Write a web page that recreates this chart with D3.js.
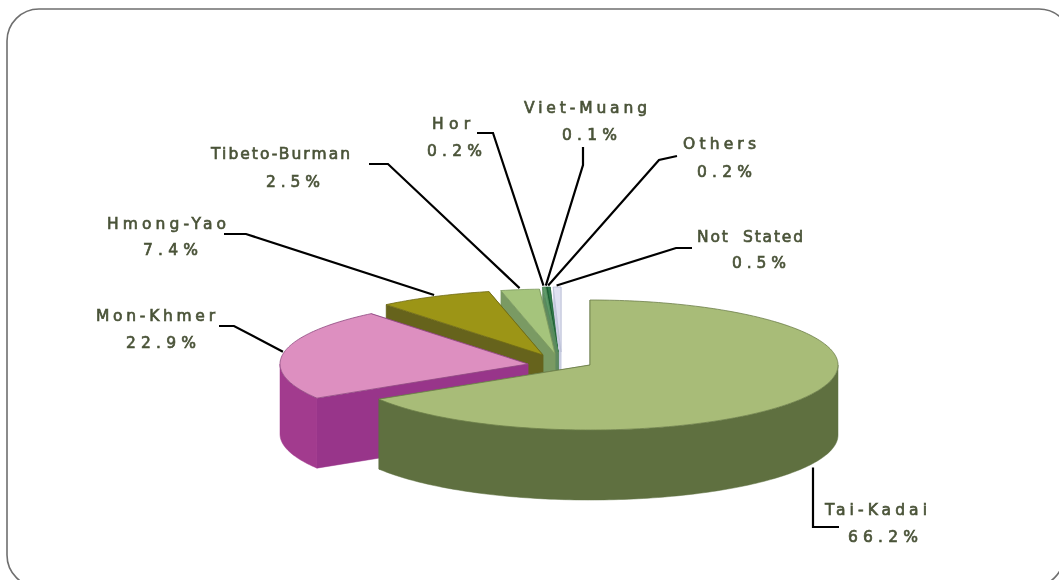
<!DOCTYPE html>
<html><head><meta charset="utf-8">
<script src="https://cdn.jsdelivr.net/npm/d3@7/dist/d3.min.js"></script>
<style>html,body{margin:0;padding:0;background:#fff;overflow:hidden}svg{display:block}</style>
</head><body><svg id="c" width="1059" height="580"></svg>
<script>
// ---- data ----
const categories = ["Tai-Kadai","Mon-Khmer","Hmong-Yao","Tibeto-Burman","Hor","Viet-Muang","Others","Not Stated"];
const shares = [66.2,22.9,7.4,2.5,0.2,0.1,0.2,0.5];
// ---- styles ----
const topColors  = ["#a8bc78","#dd8fc0","#9c9514","#a5c47c","#5f9a6a","#1f6b3a","#2f7a4a","#dfe1f1"];
const wallColors = ["#5e7040","#a23a8e","#66641c","#7a9a63","#5f8a5e","#2a6a3e","#3a7a4a","#c8cce0"];
const cutColors  = ["#5e7040","#98358a","#66641c","#7a9a63","#5f8a5e","#2a6a3e","#3a7a4a","#c8cce0"];
const edgeColors = ["#6d7f4a","#8e4a80","#6f6a14","#7d9a60","#4f8a5a","#1a5a30","#2a6a40","#b8bcd4"];
// ---- layout: exploded wedge apex offsets from pie centre ----
const pieCentre = {x:560, y:358}, rx = 248, ry = 65, depth = 70;
const apexDx = [30,-32,-17,-5,-2,-2,-2,1];
const apexDy = [7,6,-3,-4,-6,-6,-6,-6];
// leader elbows (label end, bend)
const leaderElbows = [[[839,527],[813,527]],[[219,326],[234,326]],[[224,234],[246,234]],[[369,164],[388,164]],
  [[477,133],[493,133]],[[583,147],[583,165]],[[677,156],[659,160]],[[692,248],[676,248]]];
// label placement: [left x, baseline, width] for name then value
const nameBox = [[825,515,102],[96,321,119],[107,229,119],[211,159,139],[432,129,38],[524,113,123],[683,149,73],[697,242,106]];
const valueBox = [[848,542,70],[126,348,70],[143,255,55],[266,187,54],[427,156,55],[562,140,55],[697,177,55],[732,268,54]];

const svg = d3.select("#c");
const defs = svg.append("defs");
defs.append("filter").attr("id","soft").append("feGaussianBlur").attr("stdDeviation",0.45);

// rounded frame (runs off the right and bottom of the picture)
svg.append("path").attr("fill","none").attr("stroke","#6f6f6f").attr("stroke-width",1.6)
  .attr("d","M7,41 A32,32 0 0 1 39,9 L1039,9 A32,32 0 0 1 1071,41 L1064,555 A32,32 0 0 1 1032,587 L39,587 A32,32 0 0 1 7,555 Z");

const pie = d3.pie().sort(null).startAngle(0).endAngle(2*Math.PI);
const arcs = pie(shares);
const ux = d3.scaleLinear().domain([-1,1]).range([-rx,rx]);
const uy = d3.scaleLinear().domain([-1,1]).range([-ry,ry]);
const line = d3.line();
const apex = i => [pieCentre.x+apexDx[i], pieCentre.y+apexDy[i]];
const rim = (i,a) => { const [x,y]=apex(i); return [x+ux(Math.sin(a)), y-uy(Math.cos(a))]; };
const arcPts = (i,a0,a1) => { const n=Math.max(2,Math.ceil((a1-a0)/0.02)); return d3.range(n+1).map(k=>rim(i,a0+(a1-a0)*k/n)); };
const down = p => [p[0],p[1]+depth];

const chart = svg.append("g").attr("filter","url(#soft)");
// painter's order: back wedges first
d3.range(arcs.length).reverse().forEach(i=>{
  const d=arcs[i], A=apex(i), g=chart.append("g");
  [d.startAngle,d.endAngle].forEach(a=>{
    const R=rim(i,a);
    g.append("path").attr("d",line([A,R,down(R),down(A)])+"Z").attr("fill",cutColors[i]).attr("stroke",cutColors[i]).attr("stroke-width",0.5);
  });
  const lo=Math.max(d.startAngle,Math.PI/2), hi=Math.min(d.endAngle,Math.PI*1.5);
  if(hi>lo){
    const pts=arcPts(i,lo,hi);
    g.append("path").attr("d",line(pts.concat(pts.map(down).reverse()))+"Z").attr("fill",wallColors[i]).attr("stroke",wallColors[i]).attr("stroke-width",0.5);
  }
  g.append("path").attr("d",line([A].concat(arcPts(i,d.startAngle,d.endAngle)))+"Z")
    .attr("fill",topColors[i]).attr("stroke",edgeColors[i]).attr("stroke-width",0.8).attr("stroke-linejoin","round");
});

// leaders: end point is derived from each wedge
const leaders = svg.append("g");
arcs.forEach((d,i)=>{
  const mid=(d.startAngle+d.endAngle)/2;
  let end=rim(i,mid);
  if(i===0){ // runs up to the wall's lower edge
    const ex=leaderElbows[0][1][0], [ax,ay]=apex(0), t=(ex-ax)/rx;
    end=[ex, ay+ry*Math.sqrt(1-t*t)+depth+4];
  } else { end=[end[0]-0.5,end[1]-1.5]; }
  leaders.append("path").attr("d",line(leaderElbows[i].concat([end])))
    .attr("fill","none").attr("stroke","#000").attr("stroke-width",2.2).attr("stroke-linejoin","miter");
});

// labels
const labels = svg.append("g").attr("font-family","'DejaVu Sans',sans-serif").attr("font-size",15.5)
  .attr("fill","#4a5338").attr("stroke","#4a5338").attr("stroke-width",0.65).attr("filter","url(#soft)");
categories.forEach((c,i)=>{
  labels.append("text").attr("x",nameBox[i][0]).attr("y",nameBox[i][1]).attr("textLength",nameBox[i][2]).attr("lengthAdjust","spacing").attr("xml:space","preserve").text(c==="Not Stated"?"Not  Stated":c);
  labels.append("text").attr("x",valueBox[i][0]).attr("y",valueBox[i][1]).attr("textLength",valueBox[i][2]).attr("lengthAdjust","spacing").text(d3.format(".1f")(shares[i])+"%");
});
</script></body></html>
